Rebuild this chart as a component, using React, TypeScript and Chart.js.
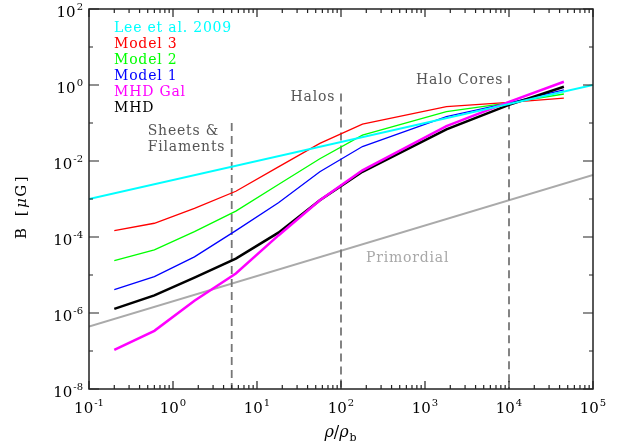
import React, { useEffect, useRef } from 'react';
import { Chart, registerables } from 'chart.js';

Chart.register(...registerables);

// ---- data ----
const densities = [0.2, 0.6, 1.8, 5.6, 18, 56, 180, 1800, 10000, 45000];
const model3 = [1.47e-4, 2.3e-4, 5.7e-4, 1.6e-3, 7.0e-3, 2.9e-2, 9.3e-2, 0.27, 0.35, 0.45];
const model2 = [2.4e-5, 4.6e-5, 1.38e-4, 4.8e-4, 2.4e-3, 1.15e-2, 4.8e-2, 0.2, 0.34, 0.58];
const model1 = [4.1e-6, 9.1e-6, 3.0e-5, 1.47e-4, 8.0e-4, 5.2e-3, 2.4e-2, 0.147, 0.34, 0.74];
const mhd = [1.28e-6, 2.9e-6, 8.5e-6, 2.7e-5, 1.3e-4, 9.3e-4, 5.2e-3, 6.8e-2, 0.3, 0.9];
const mhdGal = [1.07e-7, 3.4e-7, 2.1e-6, 1.1e-5, 1.1e-4, 9.3e-4, 5.7e-3, 8.3e-2, 0.36, 1.22];

const leeX = [0.1, 1e5];
const leeB = [1e-3, 1.0];
const primX = [0.1, 1e5];
const primB = [4.4e-7, 4.3e-3];

const phaseX = [5, 100, 1e4];
const phaseTop = [0.1, 0.6, 1.8];
const phaseBottom = 1e-8;
const phaseLabels = [['Sheets &', 'Filaments'], ['Halos'], ['Halo Cores']];

const xTickExps = [-1, 0, 1, 2, 3, 4, 5];
const yTickExps = [-8, -6, -4, -2, 0, 2];

const legendItems: [string, string][] = [
  ['Lee et al. 2009', '#00ffff'],
  ['Model 3', '#ff0000'],
  ['Model 2', '#00ff00'],
  ['Model 1', '#0000ff'],
  ['MHD Gal', '#ff00ff'],
  ['MHD', '#000000'],
];

const FONT = '"DejaVu Serif", serif';

const pts = (xs: number[], ys: number[]) => xs.map((x, i) => ({ x, y: ys[i] }));

function drawPow(ctx: CanvasRenderingContext2D, exp: number, x: number, y: number, align: 'center' | 'right') {
  ctx.font = `15px ${FONT}`;
  const base = '10';
  const wb = ctx.measureText(base).width;
  const expStr = exp < 0 ? '-' + -exp : String(exp);
  ctx.font = `10px ${FONT}`;
  const we = ctx.measureText(expStr).width;
  const total = wb + 1 + we;
  const x0 = align === 'center' ? x - total / 2 : x - total;
  ctx.textAlign = 'left';
  ctx.textBaseline = 'alphabetic';
  ctx.font = `15px ${FONT}`;
  ctx.fillText(base, x0, y);
  ctx.font = `10px ${FONT}`;
  ctx.fillText(expStr, x0 + wb + 1, y - 7);
}

const decorPlugin = {
  id: 'decor',
  afterDraw(chart: any) {
    const ctx: CanvasRenderingContext2D = chart.ctx;
    const xs = chart.scales.x;
    const ys = chart.scales.y;
    const { left, right, top, bottom } = chart.chartArea;
    ctx.save();

    // frame
    ctx.strokeStyle = '#222';
    ctx.lineWidth = 1.5;
    ctx.strokeRect(left, top, right - left, bottom - top);

    // x ticks (major + minor), bottom and top
    ctx.lineWidth = 1.2;
    ctx.beginPath();
    for (let e = -1; e <= 5; e++) {
      const px = xs.getPixelForValue(Math.pow(10, e));
      ctx.moveTo(px, bottom); ctx.lineTo(px, bottom - 8);
      ctx.moveTo(px, top); ctx.lineTo(px, top + 8);
      if (e < 5) {
        for (let m = 2; m <= 9; m++) {
          const mx = xs.getPixelForValue(m * Math.pow(10, e));
          ctx.moveTo(mx, bottom); ctx.lineTo(mx, bottom - 4);
          ctx.moveTo(mx, top); ctx.lineTo(mx, top + 4);
        }
      }
    }
    // y ticks
    for (let e = -8; e <= 2; e++) {
      const py = ys.getPixelForValue(Math.pow(10, e));
      const len = e % 2 === 0 ? 10 : 4;
      ctx.moveTo(left, py); ctx.lineTo(left + len, py);
      ctx.moveTo(right, py); ctx.lineTo(right - len, py);
    }
    ctx.stroke();

    // tick labels
    ctx.fillStyle = '#000';
    xTickExps.forEach((e) => drawPow(ctx, e, xs.getPixelForValue(Math.pow(10, e)), bottom + 24, 'center'));
    yTickExps.forEach((e) => drawPow(ctx, e, left - 6, ys.getPixelForValue(Math.pow(10, e)) + 8, 'right'));

    // y axis title
    ctx.save();
    ctx.translate(26, (top + bottom) / 2 + 8);
    ctx.rotate(-Math.PI / 2);
    (ctx as any).letterSpacing = '1.5px';
    const partsY: [string, string][] = [['B ', 'normal'], ['[', 'normal'], ['μ', 'italic'], ['G', 'normal'], [']', 'normal']];
    const gaps = [4, 1, 0, 1, 0];
    let totalW = 0;
    partsY.forEach(([t, s], i) => { ctx.font = `${s} 15px ${FONT}`; totalW += ctx.measureText(t).width + gaps[i]; });
    let cx = -totalW / 2;
    ctx.textAlign = 'left';
    partsY.forEach(([t, s], i) => { ctx.font = `${s} 15px ${FONT}`; ctx.fillText(t, cx, 0); cx += ctx.measureText(t).width + gaps[i]; });
    (ctx as any).letterSpacing = '0px';
    ctx.restore();

    // x title rho/rho_b
    {
      const cxm = (left + right) / 2;
      ctx.font = `italic 16px ${FONT}`;
      const w1 = ctx.measureText('ρ').width;
      ctx.font = `16px ${FONT}`;
      const w2 = ctx.measureText('/').width;
      ctx.font = `11px ${FONT}`;
      const w3 = ctx.measureText('b').width;
      const tot = w1 * 2 + w2 + w3 + 2;
      let x0 = cxm - tot / 2;
      const by = 437;
      ctx.textAlign = 'left';
      ctx.font = `italic 16px ${FONT}`; ctx.fillText('ρ', x0, by); x0 += w1;
      ctx.font = `16px ${FONT}`; ctx.fillText('/', x0, by); x0 += w2;
      ctx.font = `italic 16px ${FONT}`; ctx.fillText('ρ', x0, by); x0 += w1 + 1;
      ctx.font = `11px ${FONT}`; ctx.fillText('b', x0, by + 4);
    }

    // legend
    (ctx as any).letterSpacing = '0.8px';
    ctx.font = `14px ${FONT}`;
    ctx.textAlign = 'left';
    legendItems.forEach(([label, color], i) => {
      ctx.fillStyle = color;
      ctx.fillText(label, 114, 32 + i * 16);
    });

    // phase annotations
    ctx.fillStyle = '#555';
    const p0 = xs.getPixelForValue(phaseX[0]);
    ctx.fillText(phaseLabels[0][0], p0 - 84, 135);
    ctx.fillText(phaseLabels[0][1], p0 - 84, 150.5);
    const p1 = xs.getPixelForValue(phaseX[1]);
    ctx.fillText(phaseLabels[1][0], p1 - 50.5, 101);
    const p2 = xs.getPixelForValue(phaseX[2]);
    ctx.fillText(phaseLabels[2][0], p2 - 93, 84.3);
    ctx.fillStyle = '#a8a8a8';
    ctx.fillText('Primordial', 366, 261.5);
    (ctx as any).letterSpacing = '0px';

    ctx.restore();
  },
};

export default function App() {
  const ref = useRef<HTMLCanvasElement | null>(null);
  useEffect(() => {
    if (!ref.current) return;
    const thin = 1.3;
    const datasets: any[] = [
      { label: 'Primordial', data: pts(primX, primB), borderColor: '#aaaaaa', borderWidth: 2, order: 9 },
      ...phaseX.map((x, i) => ({
        label: 'phase' + i,
        data: [{ x, y: phaseTop[i] }, { x, y: phaseBottom }],
        borderColor: '#777777',
        borderWidth: 1.8,
        borderDash: [8, 5],
        order: 8,
      })),
      { label: 'Model 3', data: pts(densities, model3), borderColor: '#ff0000', borderWidth: thin, order: 6 },
      { label: 'Model 2', data: pts(densities, model2), borderColor: '#00ff00', borderWidth: thin, order: 5 },
      { label: 'Model 1', data: pts(densities, model1), borderColor: '#0000ff', borderWidth: thin, order: 4 },
      { label: 'MHD', data: pts(densities, mhd), borderColor: '#000000', borderWidth: 2.5, order: 3 },
      { label: 'MHD Gal', data: pts(densities, mhdGal), borderColor: '#ff00ff', borderWidth: 2.5, order: 2 },
      { label: 'Lee et al. 2009', data: pts(leeX, leeB), borderColor: '#00ffff', borderWidth: 1.8, order: 1 },
    ].map((d) => ({ ...d, pointRadius: 0, tension: 0, fill: false, borderCapStyle: 'butt' }));

    const chart = new Chart(ref.current, {
      type: 'line',
      data: { datasets },
      options: {
        animation: false,
        responsive: false,
        devicePixelRatio: 1,
        events: [],
        layout: { padding: { left: 89, right: 26, top: 9, bottom: 55 } },
        plugins: { legend: { display: false }, tooltip: { enabled: false } },
        scales: {
          x: { type: 'logarithmic', min: 0.1, max: 1e5, display: false },
          y: { type: 'logarithmic', min: 1e-8, max: 100, display: false },
        },
      },
      plugins: [decorPlugin],
    } as any);
    return () => chart.destroy();
  }, []);

  return (
    <div style={{ position: 'fixed', left: 0, top: 0, width: 619, height: 444, background: '#fff' }}>
      <canvas ref={ref} width={619} height={444} />
    </div>
  );
}
